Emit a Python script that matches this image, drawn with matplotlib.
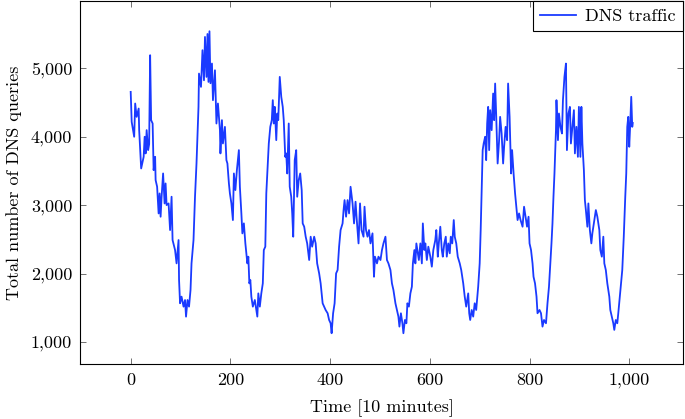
import matplotlib
matplotlib.use("Agg")
import matplotlib.pyplot as plt
from matplotlib.ticker import FuncFormatter

time_10min = [0, 2, 7, 9, 12, 16, 17, 20, 21, 26, 28, 30, 32, 35, 37, 39, 41, 44, 46, 49,
              50, 53, 56, 58, 60, 62, 65, 68, 70, 72, 76, 79, 82, 84, 89, 92, 96, 97, 99, 102,
              106, 109, 111, 114, 117, 120, 122, 126, 129, 132, 136, 137, 141, 144, 147, 149, 152, 154, 156, 158,
              160, 163, 165, 169, 172, 175, 179, 180, 183, 185, 189, 192, 194, 197, 199, 202, 205, 207, 210, 213,
              217, 219, 222, 224, 227, 230, 234, 236, 238, 240, 242, 245, 249, 252, 254, 256, 259, 262, 265, 267,
              270, 272, 275, 277, 280, 283, 285, 287, 289, 292, 294, 296, 299, 302, 305, 307, 310, 312, 314, 317,
              319, 322, 324, 326, 329, 332, 334, 337, 340, 343, 345, 348, 351, 354, 358, 361, 364, 368, 371, 374,
              378, 381, 385, 388, 391, 395, 398, 401, 403, 406, 409, 412, 415, 418, 421, 425, 427, 429, 432, 435,
              438, 441, 445, 448, 451, 453, 457, 460, 463, 467, 469, 472, 475, 478, 481, 485, 488, 490, 494, 497,
              501, 504, 507, 511, 514, 517, 521, 524, 527, 531, 534, 537, 539, 542, 545, 547, 550, 553, 555, 558,
              561, 564, 566, 569, 571, 573, 575, 578, 581, 584, 586, 589, 591, 594, 597, 601, 604, 607, 611, 613,
              616, 618, 621, 624, 626, 629, 632, 634, 637, 640, 642, 645, 648, 650, 653, 656, 660, 663, 667, 670,
              673, 677, 679, 681, 684, 687, 690, 693, 697, 700, 702, 704, 706, 708, 711, 713, 715, 717, 719, 721,
              724, 727, 729, 731, 733, 736, 739, 741, 744, 747, 749, 752, 755, 757, 760, 763, 765, 768, 771, 774,
              776, 779, 782, 786, 789, 792, 795, 798, 800, 803, 806, 808, 811, 814, 816, 820, 823, 826, 829, 833,
              836, 839, 841, 844, 846, 848, 850, 853, 854, 857, 859, 862, 865, 867, 870, 873, 875, 878, 881, 883,
              886, 889, 891, 894, 897, 899, 902, 904, 906, 909, 911, 913, 916, 918, 921, 924, 926, 929, 933, 936,
              940, 942, 945, 948, 950, 953, 956, 960, 962, 965, 968, 970, 973, 976, 978, 981, 984, 986, 989, 992,
              994, 996, 998, 1000, 1002, 1004, 1006, 1007]

dns_queries = [4654, 4216, 3998, 4484, 4289, 4411, 4095, 3657, 3535, 3705, 3998, 3755, 4095, 3803, 3890, 5190, 4241, 4192, 3511, 3705,
               3365, 3268, 2878, 3170, 2830, 3122, 3462, 3024, 3316, 3000, 3024, 2635, 3122, 2489, 2343, 2148, 2489, 1905, 1565, 1662,
               1516, 1613, 1370, 1613, 1516, 1759, 2148, 2489, 3122, 3608, 4435, 4922, 4727, 5263, 4824, 5457, 4873, 5500, 4800, 5540,
               4780, 5068, 4533, 4970, 4192, 4484, 4095, 3755, 4241, 3900, 4143, 3657, 3608, 3316, 3170, 3024, 2781, 3462, 3219, 3511,
               3803, 3268, 2878, 2586, 2733, 2440, 2148, 2246, 1856, 1905, 1662, 1516, 1613, 1467, 1370, 1710, 1516, 1710, 1856, 2343,
               2392, 3170, 3608, 3900, 4143, 4241, 4533, 4192, 4435, 3949, 4338, 4241, 4873, 4582, 4435, 4241, 3705, 3755, 3462, 4192,
               3268, 3122, 2878, 2538, 3657, 3803, 3122, 3365, 3462, 3219, 2732, 2684, 2538, 2440, 2197, 2538, 2392, 2538, 2440, 2148,
               2002, 1856, 1565, 1516, 1467, 1419, 1321, 1273, 1127, 1419, 1565, 2002, 2051, 2392, 2635, 2732, 2927, 3073, 2830, 3073,
               2878, 3268, 3024, 2732, 3049, 2830, 2440, 3024, 2635, 2538, 2976, 2635, 2538, 2635, 2440, 2587, 1953, 2246, 2148, 2246,
               2197, 2343, 2440, 2538, 2197, 2148, 2051, 1856, 1759, 1565, 1467, 1370, 1224, 1419, 1273, 1127, 1321, 1273, 1565, 1516,
               1710, 1808, 2148, 2343, 2148, 2440, 2343, 2197, 2440, 2148, 2732, 2343, 2440, 2197, 2392, 2246, 2100, 2343, 2489, 2635,
               2246, 2440, 2684, 2343, 2246, 2440, 2538, 2246, 2440, 2295, 2538, 2440, 2781, 2538, 2440, 2246, 2148, 2051, 1856, 1662,
               1516, 1710, 1419, 1321, 1467, 1370, 1565, 1467, 1808, 2148, 2635, 3219, 3803, 3900, 3998, 3657, 4192, 4435, 3803, 4387,
               4095, 4630, 4241, 4776, 4338, 3608, 3949, 4289, 4046, 3608, 3852, 4143, 3949, 4776, 4289, 3462, 3803, 3462, 3170, 2927,
               2781, 2878, 2781, 2684, 2976, 2830, 2684, 2830, 2440, 2343, 2148, 1953, 1856, 1662, 1419, 1467, 1419, 1224, 1321, 1273,
               1565, 1808, 2051, 2440, 2732, 3122, 3462, 4095, 4533, 3949, 4338, 4143, 4046, 4533, 4873, 5068, 3803, 4338, 4435, 3900,
               4143, 4387, 3755, 4143, 3705, 4435, 3705, 4435, 3900, 3511, 3073, 2927, 2684, 3024, 2635, 2440, 2587, 2732, 2927, 2830,
               2635, 2343, 2246, 2538, 2148, 2051, 1856, 1662, 1467, 1370, 1273, 1176, 1321, 1273, 1419, 1662, 1905, 2051, 2538, 3122,
               3462, 4143, 4289, 3852, 4192, 4582, 4143, 4200]

x_ticks = [0, 200, 400, 600, 800, 1000]
y_ticks = [1000, 2000, 3000, 4000, 5000]

plt.rcParams['font.family'] = ['cmr10', 'DejaVu Serif']
plt.rcParams['axes.unicode_minus'] = False
plt.rcParams['mathtext.fontset'] = 'cm'

fig = plt.figure(figsize=(6.85, 4.19), dpi=100)
ax = fig.add_axes([0.1175, 0.1313, 0.8795, 0.8663])

ax.plot(time_10min, dns_queries, color='#1a3aff', linewidth=1.3, label='DNS traffic')

ax.set_xlim(-100.7, 1107.7)
ax.set_ylim(678, 5982)
ax.set_xticks(x_ticks)
ax.set_yticks(y_ticks)
fmt = FuncFormatter(lambda v, p: f"{int(round(v)):,}")
ax.xaxis.set_major_formatter(fmt)
ax.yaxis.set_major_formatter(fmt)
ax.tick_params(direction='in', top=True, right=True, length=4, width=0.6,
               color='0.35', labelsize=13, pad=6)
for s in ax.spines.values():
    s.set_linewidth(0.8)
    s.set_color('black')

ax.set_xlabel('Time [10 minutes]', fontsize=13, labelpad=8)
ax.set_ylabel('Total number of DNS queries', fontsize=13, labelpad=6)

leg = ax.legend(loc='upper right', borderaxespad=0, fancybox=False,
                edgecolor='black', framealpha=1, fontsize=13,
                handlelength=2.0, handletextpad=0.5, borderpad=0.4)
leg.get_frame().set_linewidth(0.8)

fig.savefig('out.png', dpi=100)
